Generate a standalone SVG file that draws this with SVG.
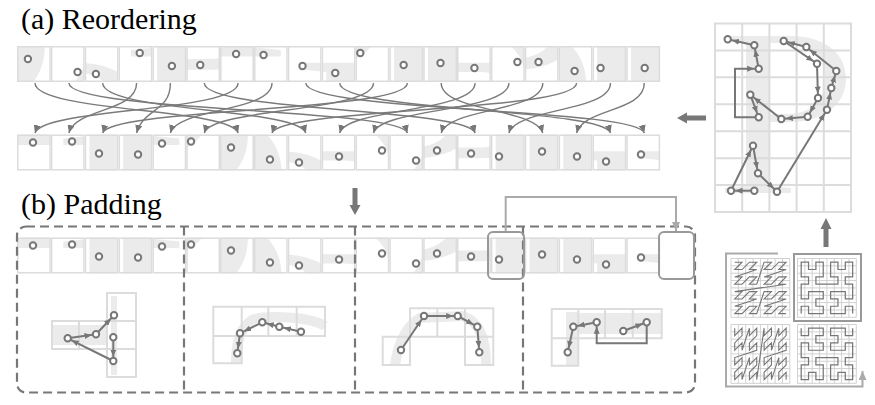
<svg xmlns="http://www.w3.org/2000/svg" xmlns:xlink="http://www.w3.org/1999/xlink" width="875" height="405" viewBox="0 0 875 405">
<style>
.bg{fill:#fff}
.frag{fill:#ebebeb;fill-rule:evenodd}
.cell{fill:none;stroke:#dcdcdc;stroke-width:1.5}
.gcell{fill:none;stroke:#dcdcdc;stroke-width:2}
.dot{fill:#fff;stroke:#777;stroke-width:2}
.ln{fill:none;stroke:#777;stroke-width:2}
.cv{fill:none;stroke:#7a7a7a;stroke-width:1.4}
.lt{fill:none;stroke:#aaa;stroke-width:2}
.box{fill:none;stroke:#999;stroke-width:2}
.dash{fill:none;stroke:#777;stroke-width:2.2;stroke-dasharray:9 5}
.big{fill:#777}
.gb{fill:none;stroke:#ebebeb;stroke-width:10}
.lbl{font-family:"Liberation Serif",serif;font-size:30px;fill:#000}
</style>
<defs>
<marker id="ah" markerUnits="userSpaceOnUse" markerWidth="8" markerHeight="7" refX="8" refY="3.5" orient="auto"><path d="M0,0 L8,3.5 L0,7 z" fill="#777"/></marker>
<marker id="ahd" markerUnits="userSpaceOnUse" markerWidth="12" markerHeight="6" refX="11.5" refY="3" orient="auto"><path d="M0,0 L7,3 L0,6 z" fill="#777"/></marker>
<marker id="ahl" markerUnits="userSpaceOnUse" markerWidth="9" markerHeight="8" refX="9" refY="4" orient="auto"><path d="M0,0 L9,4 L0,8 z" fill="#aaa"/></marker>
<clipPath id="cc"><rect width="33.85" height="36"/></clipPath>
<path id="Pshape" class="frag" d="M727 36 H790 C826 36 846 54 846 79 C846 104 824 122 790 122 H769 V186 L791 188 V193 H725 V188 L746 186 V43 L727 41 Z M769 43 H787 C812 43 825 58 825 79 C825 100 812 114 787 114 H769 Z"/>
<path id="grid8" d="M0 0H8M0 1H8M0 2H8M0 3H8M0 4H8M0 5H8M0 6H8M0 7H8M0 8H8M0 0V8M1 0V8M2 0V8M3 0V8M4 0V8M5 0V8M6 0V8M7 0V8M8 0V8" fill="none" stroke="#cfcfcf" stroke-width="0.13"/>
<polyline id="zc" fill="none" stroke="#777" stroke-width="0.15" points="0,0 1,0 0,1 1,1 2,0 3,0 2,1 3,1 0,2 1,2 0,3 1,3 2,2 3,2 2,3 3,3 4,0 5,0 4,1 5,1 6,0 7,0 6,1 7,1 4,2 5,2 4,3 5,3 6,2 7,2 6,3 7,3 0,4 1,4 0,5 1,5 2,4 3,4 2,5 3,5 0,6 1,6 0,7 1,7 2,6 3,6 2,7 3,7 4,4 5,4 4,5 5,5 6,4 7,4 6,5 7,5 4,6 5,6 4,7 5,7 6,6 7,6 6,7 7,7"/>
<polyline id="hc" fill="none" stroke="#777" stroke-width="0.17" points="0,0 0,1 1,1 1,0 2,0 3,0 3,1 2,1 2,2 3,2 3,3 2,3 1,3 1,2 0,2 0,3 0,4 1,4 1,5 0,5 0,6 0,7 1,7 1,6 2,6 2,7 3,7 3,6 3,5 2,5 2,4 3,4 4,4 5,4 5,5 4,5 4,6 4,7 5,7 5,6 6,6 6,7 7,7 7,6 7,5 6,5 6,4 7,4 7,3 7,2 6,2 6,3 5,3 4,3 4,2 5,2 5,1 4,1 4,0 5,0 6,0 6,1 7,1 7,0"/>
<g id="pA"><rect class="bg" width="33.85" height="36"/><g clip-path="url(#cc)"><use xlink:href="#Pshape" transform="scale(1.245 1.337) translate(-715 -23.5)"/></g><rect class="cell" x="0.75" y="0.75" width="32.35" height="34.5"/><circle class="dot" cx="14.7" cy="20" r="3.2"/></g>
<g id="pB"><rect class="bg" width="33.85" height="36"/><g clip-path="url(#cc)"><use xlink:href="#Pshape" transform="scale(1.245 1.337) translate(-742.2 -23.5)"/></g><rect class="cell" x="0.75" y="0.75" width="32.35" height="34.5"/><circle class="dot" cx="13.6" cy="27" r="3.2"/></g>
<g id="pC"><rect class="bg" width="33.85" height="36"/><g clip-path="url(#cc)"><use xlink:href="#Pshape" transform="scale(1.245 1.337) translate(-742.2 -50.43)"/></g><rect class="cell" x="0.75" y="0.75" width="32.35" height="34.5"/><circle class="dot" cx="18.4" cy="22" r="3.2"/></g>
<g id="pD"><rect class="bg" width="33.85" height="36"/><g clip-path="url(#cc)"><use xlink:href="#Pshape" transform="scale(1.245 1.337) translate(-769.4 -23.5)"/></g><rect class="cell" x="0.75" y="0.75" width="32.35" height="34.5"/><circle class="dot" cx="17.4" cy="22" r="3.2"/></g>
<g id="pE"><rect class="bg" width="33.85" height="36"/><g clip-path="url(#cc)"><use xlink:href="#Pshape" transform="scale(1.245 1.337) translate(-796.6 -23.5)"/></g><rect class="cell" x="0.75" y="0.75" width="32.35" height="34.5"/><circle class="dot" cx="11.2" cy="28" r="3.2"/></g>
<g id="pF"><rect class="bg" width="33.85" height="36"/><g clip-path="url(#cc)"><use xlink:href="#Pshape" transform="scale(1.245 1.337) translate(-796.6 -50.43)"/></g><rect class="cell" x="0.75" y="0.75" width="32.35" height="34.5"/><circle class="dot" cx="26.5" cy="16" r="3.2"/></g>
<g id="pG"><rect class="bg" width="33.85" height="36"/><g clip-path="url(#cc)"><use xlink:href="#Pshape" transform="scale(1.245 1.337) translate(-823.8 -50.43)"/></g><rect class="cell" x="0.75" y="0.75" width="32.35" height="34.5"/><circle class="dot" cx="16" cy="25" r="3.2"/></g>
<g id="pH"><rect class="bg" width="33.85" height="36"/><g clip-path="url(#cc)"><use xlink:href="#Pshape" transform="scale(1.245 1.337) translate(-796.6 -77.36)"/></g><rect class="cell" x="0.75" y="0.75" width="32.35" height="34.5"/><circle class="dot" cx="26.7" cy="26" r="3.2"/></g>
<g id="pI"><rect class="bg" width="33.85" height="36"/><g clip-path="url(#cc)"><use xlink:href="#Pshape" transform="scale(1.245 1.337) translate(-823.8 -77.36)"/></g><rect class="cell" x="0.75" y="0.75" width="32.35" height="34.5"/><circle class="dot" cx="10.9" cy="13" r="3.2"/></g>
<g id="pJ"><rect class="bg" width="33.85" height="36"/><g clip-path="url(#cc)"><use xlink:href="#Pshape" transform="scale(1.245 1.337) translate(-823.8 -104.29)"/></g><rect class="cell" x="0.75" y="0.75" width="32.35" height="34.5"/><circle class="dot" cx="4.8" cy="7" r="3.2"/></g>
<g id="pK"><rect class="bg" width="33.85" height="36"/><g clip-path="url(#cc)"><use xlink:href="#Pshape" transform="scale(1.245 1.337) translate(-742.2 -77.36)"/></g><rect class="cell" x="0.75" y="0.75" width="32.35" height="34.5"/><circle class="dot" cx="8.1" cy="22" r="3.2"/></g>
<g id="pL"><rect class="bg" width="33.85" height="36"/><g clip-path="url(#cc)"><use xlink:href="#Pshape" transform="scale(1.245 1.337) translate(-742.2 -104.29)"/></g><rect class="cell" x="0.75" y="0.75" width="32.35" height="34.5"/><circle class="dot" cx="17.3" cy="17" r="3.2"/></g>
<g id="pM"><rect class="bg" width="33.85" height="36"/><g clip-path="url(#cc)"><use xlink:href="#Pshape" transform="scale(1.245 1.337) translate(-769.4 -104.29)"/></g><rect class="cell" x="0.75" y="0.75" width="32.35" height="34.5"/><circle class="dot" cx="14" cy="19" r="3.2"/></g>
<g id="pN"><rect class="bg" width="33.85" height="36"/><g clip-path="url(#cc)"><use xlink:href="#Pshape" transform="scale(1.245 1.337) translate(-796.6 -104.29)"/></g><rect class="cell" x="0.75" y="0.75" width="32.35" height="34.5"/><circle class="dot" cx="13.8" cy="16" r="3.2"/></g>
<g id="pP"><rect class="bg" width="33.85" height="36"/><g clip-path="url(#cc)"><use xlink:href="#Pshape" transform="scale(1.245 1.337) translate(-742.2 -131.22)"/></g><rect class="cell" x="0.75" y="0.75" width="32.35" height="34.5"/><circle class="dot" cx="14.3" cy="19" r="3.2"/></g>
<g id="pQ"><rect class="bg" width="33.85" height="36"/><g clip-path="url(#cc)"><use xlink:href="#Pshape" transform="scale(1.245 1.337) translate(-742.2 -158.15)"/></g><rect class="cell" x="0.75" y="0.75" width="32.35" height="34.5"/><circle class="dot" cx="19.5" cy="20" r="3.2"/></g>
<g id="pR"><rect class="bg" width="33.85" height="36"/><g clip-path="url(#cc)"><use xlink:href="#Pshape" transform="scale(1.245 1.337) translate(-769.4 -185.08)"/></g><rect class="cell" x="0.75" y="0.75" width="32.35" height="34.5"/><circle class="dot" cx="9.6" cy="9" r="3.2"/></g>
<g id="pS"><rect class="bg" width="33.85" height="36"/><g clip-path="url(#cc)"><use xlink:href="#Pshape" transform="scale(1.245 1.337) translate(-742.2 -185.08)"/></g><rect class="cell" x="0.75" y="0.75" width="32.35" height="34.5"/><circle class="dot" cx="16" cy="8" r="3.2"/></g>
<g id="pT"><rect class="bg" width="33.85" height="36"/><g clip-path="url(#cc)"><use xlink:href="#Pshape" transform="scale(1.245 1.337) translate(-715 -185.08)"/></g><rect class="cell" x="0.75" y="0.75" width="32.35" height="34.5"/><circle class="dot" cx="21.2" cy="7" r="3.2"/></g>
</defs>

<text class="lbl" x="21" y="29" font-family="Liberation Serif, serif">(a) Reordering</text>
<text class="lbl" x="21" y="214" font-family="Liberation Serif, serif">(b) Padding</text>

<g id="row-original">
<use id="t1" xlink:href="#pI" x="17" y="46"/>
<use id="t2" xlink:href="#pH" x="50.85" y="46"/>
<use id="t3" xlink:href="#pE" x="84.7" y="46"/>
<use id="t4" xlink:href="#pT" x="118.55" y="46"/>
<use id="t5" xlink:href="#pQ" x="152.4" y="46"/>
<use id="t6" xlink:href="#pM" x="186.25" y="46"/>
<use id="t7" xlink:href="#pS" x="220.1" y="46"/>
<use id="t8" xlink:href="#pR" x="253.95" y="46"/>
<use id="t9" xlink:href="#pA" x="287.8" y="46"/>
<use id="t10" xlink:href="#pB" x="321.65" y="46"/>
<use id="t11" xlink:href="#pJ" x="355.5" y="46"/>
<use id="t12" xlink:href="#pP" x="389.35" y="46"/>
<use id="t13" xlink:href="#pL" x="423.2" y="46"/>
<use id="t14" xlink:href="#pD" x="457.05" y="46"/>
<use id="t15" xlink:href="#pF" x="490.9" y="46"/>
<use id="t16" xlink:href="#pN" x="524.75" y="46"/>
<use id="t17" xlink:href="#pG" x="558.6" y="46"/>
<use id="t18" xlink:href="#pK" x="592.45" y="46"/>
<use id="t19" xlink:href="#pC" x="626.3" y="46"/>
</g>

<g id="row-reordered">
<use id="b1" xlink:href="#pS" x="17" y="134.5"/>
<use id="b2" xlink:href="#pT" x="50.85" y="134.5"/>
<use id="b3" xlink:href="#pP" x="84.7" y="134.5"/>
<use id="b4" xlink:href="#pQ" x="118.55" y="134.5"/>
<use id="b5" xlink:href="#pR" x="152.4" y="134.5"/>
<use id="b6" xlink:href="#pJ" x="186.25" y="134.5"/>
<use id="b7" xlink:href="#pI" x="220.1" y="134.5"/>
<use id="b8" xlink:href="#pG" x="253.95" y="134.5"/>
<use id="b9" xlink:href="#pE" x="287.8" y="134.5"/>
<use id="b10" xlink:href="#pD" x="321.65" y="134.5"/>
<use id="b11" xlink:href="#pF" x="355.5" y="134.5"/>
<use id="b12" xlink:href="#pH" x="389.35" y="134.5"/>
<use id="b13" xlink:href="#pN" x="423.2" y="134.5"/>
<use id="b14" xlink:href="#pM" x="457.05" y="134.5"/>
<use id="b15" xlink:href="#pK" x="490.9" y="134.5"/>
<use id="b16" xlink:href="#pL" x="524.75" y="134.5"/>
<use id="b17" xlink:href="#pC" x="558.6" y="134.5"/>
<use id="b18" xlink:href="#pB" x="592.45" y="134.5"/>
<use id="b19" xlink:href="#pA" x="626.3" y="134.5"/>
</g>

<g id="reorder-connectors" class="cv" marker-end="url(#ah)">
<path d="M35 83 C35 112 231.1 108 238.1 133"/>
<path d="M68.9 83 C68.9 112 400.4 108 407.4 133"/>
<path d="M102.7 83 C102.7 112 298.8 108 305.8 133"/>
<path d="M136.6 83 C136.6 112 75.9 108 68.9 133"/>
<path d="M170.4 83 C170.4 112 143.6 108 136.6 133"/>
<path d="M204.3 83 C204.3 112 468.1 108 475.1 133"/>
<path d="M238.1 83 C238.1 112 42 108 35 133"/>
<path d="M272 83 C272 112 177.4 108 170.4 133"/>
<path d="M305.8 83 C305.8 112 637.3 108 644.3 133"/>
<path d="M339.7 83 C339.7 112 603.5 108 610.5 133"/>
<path d="M373.5 83 C373.5 112 211.3 108 204.3 133"/>
<path d="M407.4 83 C407.4 112 109.7 108 102.7 133"/>
<path d="M441.2 83 C441.2 112 535.8 108 542.8 133"/>
<path d="M475.1 83 C475.1 112 346.7 108 339.7 133"/>
<path d="M508.9 83 C508.9 112 380.5 108 373.5 133"/>
<path d="M542.8 83 C542.8 112 448.2 108 441.2 133"/>
<path d="M576.6 83 C576.6 112 279 108 272 133"/>
<path d="M610.5 83 C610.5 112 515.9 108 508.9 133"/>
<path d="M644.3 83 C644.3 112 583.6 108 576.6 133"/>
</g>

<g id="patch-grid">
<use xlink:href="#Pshape"/>
<path class="gcell" d="M715 23.5H851V212H715Z M742.2 23.5V212 M769.4 23.5V212 M796.6 23.5V212 M823.8 23.5V212 M715 50.43H851 M715 77.36H851 M715 104.29H851 M715 131.22H851 M715 158.15H851 M715 185.08H851"/>
<g class="ln" marker-end="url(#ahd)">
<path d="M754.3 190.7 L731 190.7"/>
<path d="M731 190.7 L753 145.7"/>
<path d="M753 145.7 L758 173.3"/>
<path d="M758 173.3 L777 191.7"/>
<path d="M777 191.7 L827 109.7"/>
<path d="M827 109.7 L831.3 88"/>
<path d="M831.3 88 L836.3 71"/>
<path d="M836.3 71 L806.3 47"/>
<path d="M806.3 47 L783.7 41"/>
<path d="M783.7 41 L817 63.7"/>
<path d="M817 63.7 L818 98"/>
<path d="M818 98 L807.7 116.7"/>
<path d="M807.7 116.7 L781.3 119"/>
<path d="M781.3 119 L750.3 94.7"/>
<path d="M750.3 94.7 L758.7 117.3"/>
<path d="M758.7 117.3 H735 V68.7 H758.7"/>
<path d="M758.7 68.7 L754.3 45.3"/>
<path d="M754.3 45.3 L727.7 39.3"/>
</g>
<g class="dot">
<circle cx="754.3" cy="190.7" r="3.2"/><circle cx="731" cy="190.7" r="3.2"/><circle cx="753" cy="145.7" r="3.2"/><circle cx="758" cy="173.3" r="3.2"/><circle cx="777" cy="191.7" r="3.2"/><circle cx="827" cy="109.7" r="3.2"/><circle cx="831.3" cy="88" r="3.2"/><circle cx="836.3" cy="71" r="3.2"/><circle cx="806.3" cy="47" r="3.2"/><circle cx="783.7" cy="41" r="3.2"/><circle cx="817" cy="63.7" r="3.2"/><circle cx="818" cy="98" r="3.2"/><circle cx="807.7" cy="116.7" r="3.2"/><circle cx="781.3" cy="119" r="3.2"/><circle cx="750.3" cy="94.7" r="3.2"/><circle cx="758.7" cy="117.3" r="3.2"/><circle cx="758.7" cy="68.7" r="3.2"/><circle cx="754.3" cy="45.3" r="3.2"/><circle cx="727.7" cy="39.3" r="3.2"/>
</g>
</g>

<g id="big-arrows" class="big">
<path d="M706 115.5 H687 V112.5 L677 118 L687 123.5 V120.5 H706 Z"/>
<path d="M352.5 188 V205 H349.5 L355 215 L360.5 205 H357.5 V188 Z"/>
<path d="M823.5 247 V229 H820.5 L826 218 L831.5 229 H828.5 V247 Z"/>
</g>

<g id="curve-thumbnails">
<path class="lt" d="M778 253.5 H726 V386.5 H862.5 V371" marker-end="url(#ahl)"/>
<use xlink:href="#grid8" transform="translate(731 258.5) scale(7.35)"/>
<use xlink:href="#grid8" transform="translate(797.5 258.5) scale(7.35)"/>
<use xlink:href="#grid8" transform="translate(731 324.5) scale(7.35)"/>
<use xlink:href="#grid8" transform="translate(797.5 324.5) scale(7.35)"/>
<use xlink:href="#zc" transform="translate(734.7 262.2) scale(7.35)"/>
<use xlink:href="#zc" transform="matrix(0 7.35 7.35 0 734.7 328.2)"/>
<use xlink:href="#hc" transform="matrix(7.35 0 0 -7.35 801.2 313.6)"/>
<use xlink:href="#hc" transform="translate(801.2 328.2) scale(7.35)"/>
<rect class="box" x="794" y="254" width="67" height="67" stroke-width="2.5"/>
</g>

<g id="row-padded">
<use xlink:href="#pS" x="17" y="237.5"/>
<use xlink:href="#pT" x="50.85" y="237.5"/>
<use xlink:href="#pP" x="84.7" y="237.5"/>
<use xlink:href="#pQ" x="118.55" y="237.5"/>
<use xlink:href="#pR" x="152.4" y="237.5"/>
<use xlink:href="#pJ" x="186.25" y="237.5"/>
<use xlink:href="#pI" x="220.1" y="237.5"/>
<use xlink:href="#pG" x="253.95" y="237.5"/>
<use xlink:href="#pE" x="287.8" y="237.5"/>
<use xlink:href="#pD" x="321.65" y="237.5"/>
<use xlink:href="#pF" x="355.5" y="237.5"/>
<use xlink:href="#pH" x="389.35" y="237.5"/>
<use xlink:href="#pN" x="423.2" y="237.5"/>
<use xlink:href="#pM" x="457.05" y="237.5"/>
<use xlink:href="#pK" x="490.9" y="237.5"/>
<use xlink:href="#pL" x="524.75" y="237.5"/>
<use xlink:href="#pC" x="558.6" y="237.5"/>
<use xlink:href="#pB" x="592.45" y="237.5"/>
<use xlink:href="#pA" x="626.3" y="237.5"/>
</g>

<g id="segments">
<rect class="dash" x="17" y="226.5" width="678" height="166" rx="9"/>
<path class="dash" d="M184 226.5 V392.5 M355 226.5 V392.5 M523 226.5 V392.5"/>
</g>

<g id="pad-source"><rect class="box" x="488" y="232" width="36" height="47" rx="5"/></g>
<g id="pad-cell"><rect class="box" x="659" y="232" width="35" height="47" rx="5" fill="#fff"/></g>
<g id="pad-connector"><path class="lt" d="M505.7 231 V197 H676 V231" marker-end="url(#ahl)"/></g>

<g id="seg1">
<rect class="frag" x="52" y="325" width="55" height="20"/>
<rect class="frag" x="111" y="296" width="6" height="79"/>
<path class="gcell" d="M52 321H107V349H52Z M79 321V349 M107 293H136V377H107Z M107 321H136 M107 349H136"/>
<g class="ln" marker-end="url(#ahd)">
<path d="M113.3 337.3 L113.3 361"/>
<path d="M113.3 361 L67.7 338.3"/>
<path d="M67.7 338.3 L96 334.3"/>
<path d="M96 334.3 L114 315.3"/>
</g>
<g class="dot"><circle cx="67.7" cy="338.3" r="3.2"/><circle cx="96" cy="334.3" r="3.2"/><circle cx="114" cy="315.3" r="3.2"/><circle cx="113.3" cy="337.3" r="3.2"/><circle cx="113.3" cy="361" r="3.2"/></g>
</g>

<g id="seg2">
<path class="gb" d="M236 363 Q236 330 252 320 Q262 315 295 318 Q315 320 325 326"/>
<path class="gcell" d="M213.3 306.7H325V336H213.3Z M241.7 306.7V336 M268.3 306.7V336 M296.7 306.7V336 M213.3 336V363.3H241.7V336"/>
<g class="ln" marker-end="url(#ahd)">
<path d="M301 331.7 L279.3 326.7"/>
<path d="M279.3 326.7 L262.3 322.3"/>
<path d="M262.3 322.3 L240 333.3"/>
<path d="M240 333.3 L237.3 353.3"/>
</g>
<g class="dot"><circle cx="301" cy="331.7" r="3.2"/><circle cx="279.3" cy="326.7" r="3.2"/><circle cx="262.3" cy="322.3" r="3.2"/><circle cx="240" cy="333.3" r="3.2"/><circle cx="237.3" cy="353.3" r="3.2"/></g>
</g>

<g id="seg3">
<path class="gb" d="M395 365 Q400 330 420 318 L462 316 Q486 322 486 365"/>
<path class="gcell" d="M410 308.3H493.3V336.7H410Z M437.3 308.3V336.7 M465 308.3V336.7 M382.7 336.7H410V365H382.7Z M465 336.7V365H493.3V336.7"/>
<g class="ln" marker-end="url(#ahd)">
<path d="M401 350 L424 316"/>
<path d="M424 316 L457.7 316"/>
<path d="M457.7 316 L477.3 326.7"/>
<path d="M477.3 326.7 L479.3 352.3"/>
</g>
<g class="dot"><circle cx="401" cy="350" r="3.2"/><circle cx="424" cy="316" r="3.2"/><circle cx="457.7" cy="316" r="3.2"/><circle cx="477.3" cy="326.7" r="3.2"/><circle cx="479.3" cy="352.3" r="3.2"/></g>
</g>

<g id="seg4">
<rect class="frag" x="578" y="313" width="83" height="21"/>
<rect class="frag" x="566" y="312" width="12" height="53"/>
<path class="gcell" d="M551.7 309H661.7V338.3H551.7Z M578.3 309V338.3 M605 309V338.3 M632.7 309V338.3 M551.7 338.3V365.7H578.3V338.3"/>
<g class="ln" marker-end="url(#ahd)">
<path d="M623.3 331 L646.7 322.3"/>
<path d="M646.7 322.3 V343.3 H596.7 V322.3"/>
<path d="M596.7 322.3 L573.3 326.7"/>
<path d="M573.3 326.7 L567.7 352.3"/>
</g>
<g class="dot"><circle cx="623.3" cy="331" r="3.2"/><circle cx="646.7" cy="322.3" r="3.2"/><circle cx="596.7" cy="322.3" r="3.2"/><circle cx="573.3" cy="326.7" r="3.2"/><circle cx="567.7" cy="352.3" r="3.2"/></g>
</g>
</svg>
